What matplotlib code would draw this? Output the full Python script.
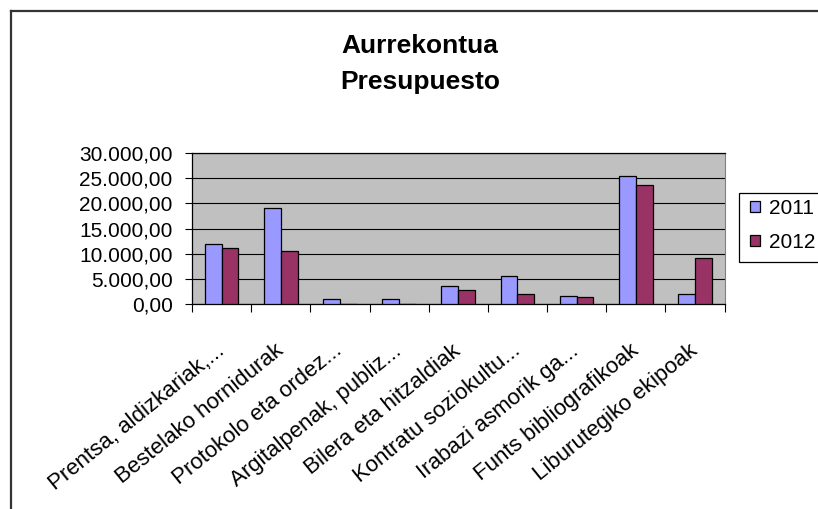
import matplotlib
matplotlib.use('Agg')
import matplotlib.pyplot as plt
import numpy as np
from matplotlib.ticker import FuncFormatter, FixedLocator

### data
categories = ['Prentsa, aldizkariak,...', 'Bestelako hornidurak', 'Protokolo eta ordez...',
              'Argitalpenak, publiz...', 'Bilera eta hitzaldiak', 'Kontratu soziokultu...',
              'Irabazi asmorik ga...', 'Funts bibliografikoak', 'Liburutegiko ekipoak']
values_2011 = [11930, 18990, 1050, 1050, 3560, 5470, 1650, 25520, 1910]
values_2012 = [11140, 10550, 0, 0, 2700, 1910, 1390, 23600, 9230]
series_names = ['2011', '2012']

plt.rcParams['font.family'] = ['Liberation Sans', 'DejaVu Sans']

W, H = 818, 509
fig = plt.figure(figsize=(W / 100, H / 100), dpi=100)
ax = fig.add_axes([192 / W, 1 - 304 / H, (724.5 - 192) / W, (304 - 153) / H])

x = np.arange(len(categories))
bw = 0.2857
ax.bar(x - bw / 2, values_2011, bw, color='#9999FF', edgecolor='black', linewidth=0.9,
       label=series_names[0], zorder=3)
ax.bar(x + bw / 2, values_2012, bw, color='#993366', edgecolor='black', linewidth=0.9,
       label=series_names[1], zorder=3)

ax.set_facecolor('#C0C0C0')
ax.set_xlim(-0.5, len(categories) - 0.5)
ax.set_ylim(0, 30000)
ax.set_yticks(np.arange(0, 30001, 5000))
ax.yaxis.set_major_formatter(FuncFormatter(
    lambda v, p: f'{v:,.2f}'.replace(',', 'X').replace('.', ',').replace('X', '.')))
ax.grid(axis='y', color='black', linewidth=0.8, zorder=1)

# ticks at category boundaries, labels at centres
ax.xaxis.set_major_locator(FixedLocator(np.arange(-0.5, len(categories), 1.0)))
ax.xaxis.set_major_formatter(FuncFormatter(lambda v, p: ''))
ax.xaxis.set_minor_locator(FixedLocator(x))
ax.set_xticklabels(categories, minor=True)
ax.tick_params(axis='x', which='minor', length=0, pad=32)
ax.tick_params(axis='x', which='major', length=6, width=0.8, direction='out')
ax.tick_params(axis='y', length=5, width=0.8, pad=9, labelsize=15)
for lbl in ax.get_xticklabels(minor=True):
    lbl.set_rotation(39)
    lbl.set_ha('right')
    lbl.set_va('center')
    lbl.set_rotation_mode('anchor')
    lbl.set_fontsize(16)

for s in ['left', 'bottom', 'top']:
    ax.spines[s].set_color('black')
    ax.spines[s].set_linewidth(0.9)
ax.spines['right'].set_color('#808080')

# legend box runs past the right edge of the picture
fig.add_artist(plt.Rectangle((739 / W, 1 - 262 / H), 100 / W, 69 / H, transform=fig.transFigure,
                             facecolor='white', edgecolor='black', linewidth=0.9, zorder=-1))
leg = ax.legend(loc='upper left', bbox_to_anchor=(744 / W, 1 - 193 / H),
                bbox_transform=fig.transFigure, borderaxespad=0, fontsize=15,
                handlelength=0.45, handleheight=0.45, handletextpad=0.45,
                labelspacing=0.72, borderpad=0.3, frameon=False)

# title
fig.text(420 / W, 1 - 46 / H, 'Aurrekontua', ha='center', va='center',
         fontsize=19, fontweight='bold')
fig.text(420 / W, 1 - 82 / H, 'Presupuesto', ha='center', va='center',
         fontsize=19, fontweight='bold')

# chart area border (left and top edges visible)
fig.add_artist(plt.Line2D([10.5 / W, 10.5 / W], [0, 1 - 11 / H], transform=fig.transFigure,
                          color='#333333', linewidth=1.6))
fig.add_artist(plt.Line2D([10.5 / W, 1], [1 - 11 / H, 1 - 11 / H], transform=fig.transFigure,
                          color='#333333', linewidth=1.6))

fig.savefig('out.png', dpi=100)
